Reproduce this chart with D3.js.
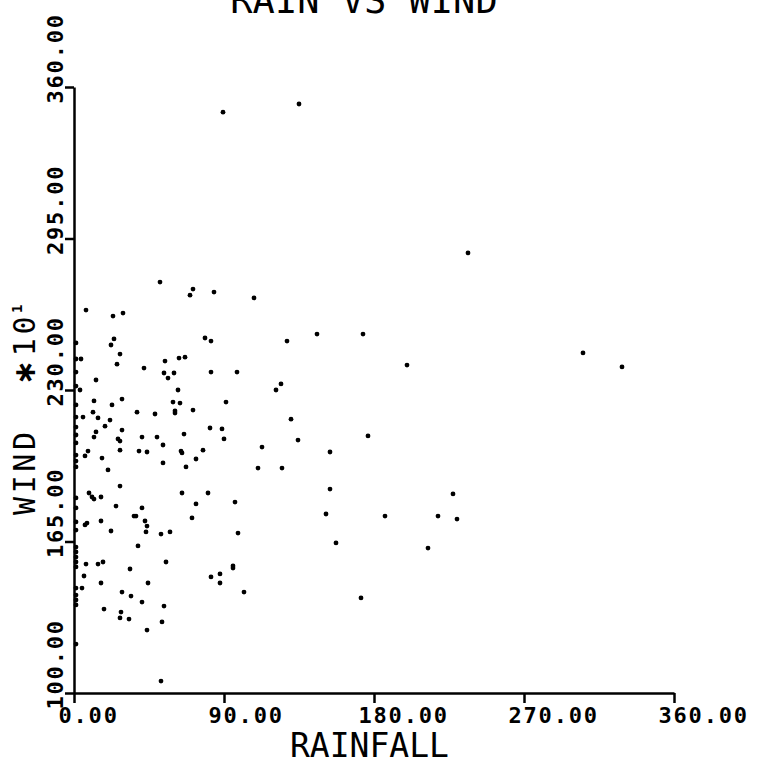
<!DOCTYPE html>
<html>
<head>
<meta charset="utf-8">
<script src="https://cdn.jsdelivr.net/npm/d3@7"></script>
<style>
  body { margin: 0; background: #fff; }
  svg text { font-family: "DejaVu Sans Mono", "Liberation Mono", monospace; fill: #000; }
</style>
</head>
<body>
<svg id="chart" width="778" height="761"></svg>
<script>
// labels and ticks
const title = "RAIN VS WIND";
const xLabel = "RAINFALL";
const yLabel = "WIND\u00a0\u00a0";
const yLabelMul = "\u2217";
const yLabelBase = "10";
const yLabelExp = "1";
const xTicks = [0, 90, 180, 270, 360];
const yTicks = [100, 165, 230, 295, 360];

const obs = [
  [89.4, 349.2], [135, 352.7], [236.4, 288.8], [199.8, 240.7], [305.4, 245.9],
  [328.8, 239.9], [227.4, 185.4], [218.4, 175.9], [229.8, 174.6], [212.4, 162.2],
  [51.6, 276.3], [71.4, 273.3], [69.6, 270.7], [84, 272.0], [108, 269.5],
  [78.6, 252.3], [82.2, 251.0], [127.8, 251.0], [145.8, 254.0], [173.4, 254.0],
  [54.6, 242.4], [63, 243.7], [66.6, 244.1], [54, 237.3], [60, 237.3],
  [56.4, 235.1], [82.2, 237.7], [97.8, 237.7], [62.4, 230.0], [124.2, 232.6],
  [121.2, 230.0], [59.4, 224.8], [63.6, 224.4], [91.2, 224.8], [60.6, 221.0],
  [60.6, 220.1], [71.4, 221.4], [48.6, 219.7], [130.2, 217.5], [49.8, 209.8],
  [66, 211.1], [81.6, 213.7], [88.8, 213.3], [90, 209.0], [53.4, 206.4],
  [134.4, 208.5], [176.4, 210.3], [112.8, 205.5], [64.2, 203.8], [64.8, 203.0],
  [77.4, 204.2], [153.6, 203.4], [53.4, 198.7], [73.2, 200.4], [67.2, 197.0],
  [110.4, 196.5], [124.8, 196.5], [64.8, 185.8], [80.4, 185.8], [153.6, 187.5],
  [73.2, 181.1], [96.6, 181.9], [70.8, 175.1], [151.2, 176.8], [186.6, 175.9],
  [52.2, 168.2], [57.6, 169.1], [98.4, 168.6], [157.2, 164.4],
  [7.2, 264.3], [23.4, 261.7], [29.4, 263.0], [24, 251.9], [22.2, 249.3],
  [27.6, 245.4], [25.8, 241.1], [42, 239.4], [13.2, 234.3], [3.6, 230.0],
  [28.8, 226.1], [12, 225.3], [22.8, 223.6], [37.8, 220.5], [11.4, 220.5],
  [5.4, 218.4], [14.4, 218.0], [21.6, 217.1], [18.6, 214.5], [28.8, 212.8],
  [13.2, 212.0], [12, 209.8], [40.8, 209.8], [26.4, 209.0], [27.6, 208.1],
  [8.4, 203.8], [6.6, 201.7], [27.6, 204.2], [39, 203.8], [43.8, 203.4],
  [16.8, 200.8], [20.4, 195.7], [27.6, 188.8], [9, 185.8], [10.8, 184.1],
  [12, 183.2], [16.2, 184.1], [25.2, 180.2], [40.8, 179.4],
  [36, 175.9], [37.2, 175.9], [7.8, 172.9], [6.6, 172.1], [16.2, 173.8],
  [42.6, 173.8], [43.8, 171.6], [22.2, 169.5], [43.2, 169.1], [38.4, 163.1],
  [14.4, 155.3], [17.4, 156.2], [7.2, 155.3], [55.2, 156.2], [33.6, 153.2],
  [95.4, 154.5], [95.4, 153.6], [6, 150.2], [82.2, 149.8], [87.6, 151.1],
  [87.6, 147.2], [16.2, 147.2], [44.4, 147.2], [28.8, 143.3], [102, 143.3],
  [34.2, 141.6], [40.8, 139.0], [54, 137.3], [18, 136.0], [28.2, 134.7],
  [27.6, 132.2], [33, 131.7], [52.8, 130.5], [43.8, 127.0], [52.2, 105.1],
  [172.2, 140.8], [1.2, 121.0],
  [1.2, 250.2], [1.2, 243.3], [4.2, 243.3], [1.2, 237.7], [1.2, 231.7],
  [1.2, 223.6], [1.2, 218.4], [1.2, 214.1], [1.2, 210.7], [1.2, 207.3],
  [1.2, 202.1], [1.2, 199.5], [1.2, 197.0], [1.2, 183.7], [1.2, 179.4],
  [1.2, 173.4], [1.2, 169.9], [1.2, 162.6], [1.2, 160.5], [1.2, 158.3],
  [1.2, 156.2], [1.2, 154.1], [1.2, 145.0], [4.8, 145.0], [1.2, 142.0],
  [1.2, 139.9], [1.2, 137.8]
];

const svg = d3.select("#chart");

const x = d3.scaleLinear().domain([0, 360]).range([74, 674]);
const y = d3.scaleLinear().domain([100, 360]).range([693, 87]);

// x axis
let xAxis = svg.append("g")
    .attr("class", "xAxis")
    .attr("transform", "translate(0,693)")
    .call(d3.axisBottom(x).tickValues(xTicks).tickSize(10).tickSizeOuter(0).tickFormat(d3.format(".2f")));

xAxis.attr("font-family", null).attr("font-size", null);
xAxis.select(".domain").attr("stroke", "#000").attr("stroke-width", 2.5);
xAxis.selectAll(".tick line").attr("stroke", "#000").attr("stroke-width", 2.5);
xAxis.selectAll(".tick text")
    .attr("x", -16)
    .attr("y", 30)
    .attr("dy", 0)
    .style("text-anchor", "start")
    .style("font-weight", "bold")
    .style("letter-spacing", "1.8px")
    .style("font-size", "22px");

// y axis
let yAxis = svg.append("g")
    .attr("class", "yAxis")
    .attr("transform", "translate(74,0)")
    .call(d3.axisLeft(y).tickValues(yTicks).tickSize(9).tickSizeOuter(0).tickFormat(d3.format(".2f")));

yAxis.attr("font-family", null).attr("font-size", null);
yAxis.select(".domain").attr("stroke", "#000").attr("stroke-width", 2.5);
yAxis.selectAll(".tick line").attr("stroke", "#000").attr("stroke-width", 2.5);
yAxis.selectAll(".tick text")
    .attr("transform", "rotate(-90)")
    .attr("x", -16)
    .attr("y", -11)
    .attr("dy", 0)
    .style("text-anchor", "start")
    .style("font-weight", "bold")
    .style("letter-spacing", "1.8px")
    .style("font-size", "22px");

// points
svg.append("g").attr("class", "data")
    .selectAll("circle")
    .data(obs)
    .enter().append("circle")
    .attr("cx", d => x(d[0]))
    .attr("cy", d => y(d[1]))
    .attr("r", 2.4)
    .attr("fill", "#000");

// titles
svg.append("text")
    .attr("x", 364)
    .attr("y", 13)
    .style("text-anchor", "middle")
    .style("font-size", "37px")
    .text(title);

svg.append("text")
    .attr("x", 290)
    .attr("y", 757)
    .style("font-size", "33px")
    .text(xLabel);

let yTitle = svg.append("text")
    .attr("transform", "translate(35,515) rotate(-90)")
    .style("font-size", "30px")
    .style("letter-spacing", "3.6px");
yTitle.append("tspan").text(yLabel);
yTitle.append("tspan")
    .style("font-family", "DejaVu Sans")
    .style("font-weight", "bold")
    .text(yLabelMul);
yTitle.append("tspan").text(yLabelBase);
yTitle.append("tspan")
    .attr("dy", -13)
    .style("font-size", "14px")
    .style("font-weight", "bold")
    .text(yLabelExp);
</script>
</body>
</html>
